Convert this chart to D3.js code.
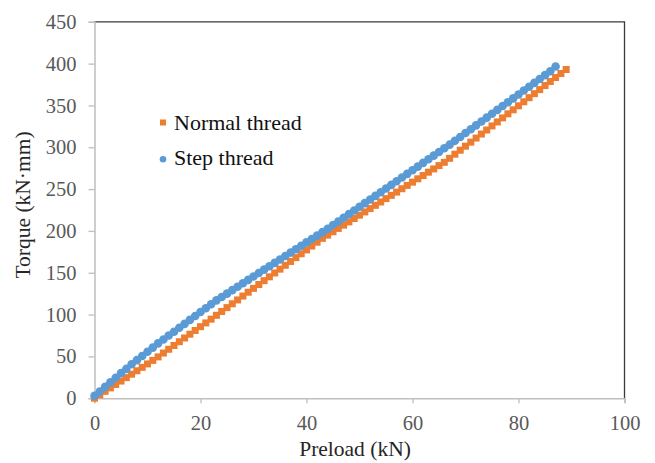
<!DOCTYPE html>
<html>
<head>
<meta charset="utf-8">
<script src="https://cdn.jsdelivr.net/npm/d3@7"></script>
<style>
  body { margin: 0; background: #fff; }
  svg { display: block; font-family: "Liberation Serif", "Times New Roman", serif; }
</style>
</head>
<body>
<svg width="655" height="463"></svg>
<script>
// preload (kN) / torque (kN.mm)
const preloadNormal = [0, 1, 2, 3, 4, 5, 6, 7, 8, 9, 10, 11, 12, 13, 14, 15, 16, 17, 18, 19,
  20, 21, 22, 23, 24, 25, 26, 27, 28, 29, 30, 31, 32, 33, 34, 35, 36, 37, 38, 39,
  40, 41, 42, 43, 44, 45, 46, 47, 48, 49, 50, 51, 52, 53, 54, 55, 56, 57, 58, 59,
  60, 61, 62, 63, 64, 65, 66, 67, 68, 69, 70, 71, 72, 73, 74, 75, 76, 77, 78, 79,
  80, 81, 82, 83, 84, 85, 86, 87, 88, 89];
const torqueNormal = [0, 4, 8.2, 12.3, 16.4, 20.5, 24.6, 28.7, 32.8, 36.9, 41, 45.2, 49.4, 54, 58.5, 63, 67.5, 72, 76.5, 81,
  85.5, 90, 94.5, 99.1, 103.7, 108.3, 112.9, 117.5, 122.1, 126.7, 131.3, 135.9, 140.5, 145.1, 149.7, 154.3, 158.9, 163.5, 168.1, 172.7,
  177.3, 181.9, 186.5, 191.1, 195, 199, 203, 206.9, 210.8, 214.8, 218.8, 222.7, 226.7, 230.6, 234.6, 238.6, 242.5, 246.4, 250.4, 254.4,
  258.3, 262.3, 266.2, 270.2, 274.1, 278.1, 282, 286.8, 291.7, 296.5, 301.3, 306.1, 311, 315.8, 320.6, 325.5, 330.3, 335.1, 340, 344.8,
  349.6, 354.4, 359.3, 364.1, 368.9, 373.8, 378.6, 383.4, 388.2, 393];

const preloadStep = [0, 1, 2, 3, 4, 5, 6, 7, 8, 9, 10, 11, 12, 13, 14, 15, 16, 17, 18, 19,
  20, 21, 22, 23, 24, 25, 26, 27, 28, 29, 30, 31, 32, 33, 34, 35, 36, 37, 38, 39,
  40, 41, 42, 43, 44, 45, 46, 47, 48, 49, 50, 51, 52, 53, 54, 55, 56, 57, 58, 59,
  60, 61, 62, 63, 64, 65, 66, 67, 68, 69, 70, 71, 72, 73, 74, 75, 76, 77, 78, 79,
  80, 81, 82, 83, 84, 85, 86, 87];
const torqueStep = [3, 8, 13.5, 19, 24.5, 30, 35, 40.5, 45.5, 50.5, 55.5, 60.5, 65.5, 70.2, 74.9, 79.5, 84.2, 88.9, 93.6, 98.3,
  103, 107.6, 112.3, 117, 121, 125, 129.2, 133.3, 137.4, 141.5, 145.5, 149.6, 153.7, 157.8, 161.8, 165.9, 170, 174.1, 178.1, 182.2,
  186.3, 190.4, 194.4, 198.5, 202.6, 207, 211.3, 215.7, 220.1, 224.4, 228.8, 233.2, 237.6, 241.9, 246.3, 250.7, 255, 259.4, 263.8, 268.2,
  272.5, 276.9, 281.3, 285.6, 290, 294.4, 298.8, 303.1, 307.7, 312.3, 317, 321.6, 326.2, 330.8, 335.4, 340, 344.7, 349.3, 353.9, 358.5,
  363.1, 367.8, 372.4, 377, 381.6, 386.2, 390.8, 396.5];

const xTicks = [0, 20, 40, 60, 80, 100];
const yTicks = [0, 50, 100, 150, 200, 250, 300, 350, 400, 450];

const svg = d3.select('svg');

const x = d3.scaleLinear().domain([0, 100]).range([94.5, 624.5]);
const y = d3.scaleLinear().domain([0, 450]).range([398.2, 21.8]);

const orange = '#ED7D31';
const blue = '#5B9BD5';
const tickColor = '#595959';

// plot frame (top / right dark)
svg.append('path')
    .attr('d', `M${x(0)},${y(450)}H${x(100)}V${y(0)}`)
    .attr('fill', 'none')
    .attr('stroke', '#3a3a3a')
    .attr('stroke-width', 1.3);

const xAxis = svg.append('g')
    .attr('transform', `translate(0,${y(0)})`)
    .call(d3.axisBottom(x).tickValues(xTicks).tickSize(5).tickPadding(12));
const yAxis = svg.append('g')
    .attr('transform', `translate(${x(0)},0)`)
    .call(d3.axisLeft(y).tickValues(yTicks).tickSize(6).tickPadding(12));

[xAxis, yAxis].forEach(ax => {
    ax.select('.domain').attr('stroke', '#BFBFBF').attr('stroke-width', 1.5);
    ax.selectAll('.tick line').attr('stroke', '#BFBFBF').attr('stroke-width', 1.3);
    ax.selectAll('.tick text')
        .attr('fill', tickColor)
        .style('font-size', '20.5px')
        .style('font-family', '"Liberation Serif", serif');
});

// series: normal thread (squares) first, step thread (circles) on top
const normal = preloadNormal.map((p, i) => ({p: p, t: torqueNormal[i]}));
const step = preloadStep.map((p, i) => ({p: p, t: torqueStep[i]}));

const sq = 7;
svg.append('g').selectAll('rect')
    .data(normal)
    .enter().append('rect')
    .attr('x', d => x(d.p) - sq / 2)
    .attr('y', d => y(d.t) - sq / 2)
    .attr('width', sq)
    .attr('height', sq)
    .attr('fill', orange);

svg.append('g').selectAll('circle')
    .data(step)
    .enter().append('circle')
    .attr('cx', d => x(d.p))
    .attr('cy', d => y(d.t))
    .attr('r', 4.3)
    .attr('fill', blue);

// axis titles
svg.append('text')
    .attr('x', 355)
    .attr('y', 456)
    .attr('text-anchor', 'middle')
    .attr('fill', '#262626')
    .style('font-size', '21.5px')
    .text('Preload (kN)');

svg.append('text')
    .attr('transform', 'translate(30,205) rotate(-90)')
    .attr('text-anchor', 'middle')
    .attr('fill', '#262626')
    .style('font-size', '21.5px')
    .text('Torque (kN·mm)');

// legend
const legend = svg.append('g');
legend.append('rect')
    .attr('x', 160).attr('y', 119.5)
    .attr('width', 6).attr('height', 6)
    .attr('fill', orange);
legend.append('text')
    .attr('x', 174).attr('y', 130)
    .attr('fill', '#111')
    .style('font-size', '22px')
    .text('Normal thread');
legend.append('circle')
    .attr('cx', 163).attr('cy', 159.3)
    .attr('r', 3.3)
    .attr('fill', blue);
legend.append('text')
    .attr('x', 174).attr('y', 164.5)
    .attr('fill', '#111')
    .style('font-size', '22px')
    .text('Step thread');
</script>
</body>
</html>
